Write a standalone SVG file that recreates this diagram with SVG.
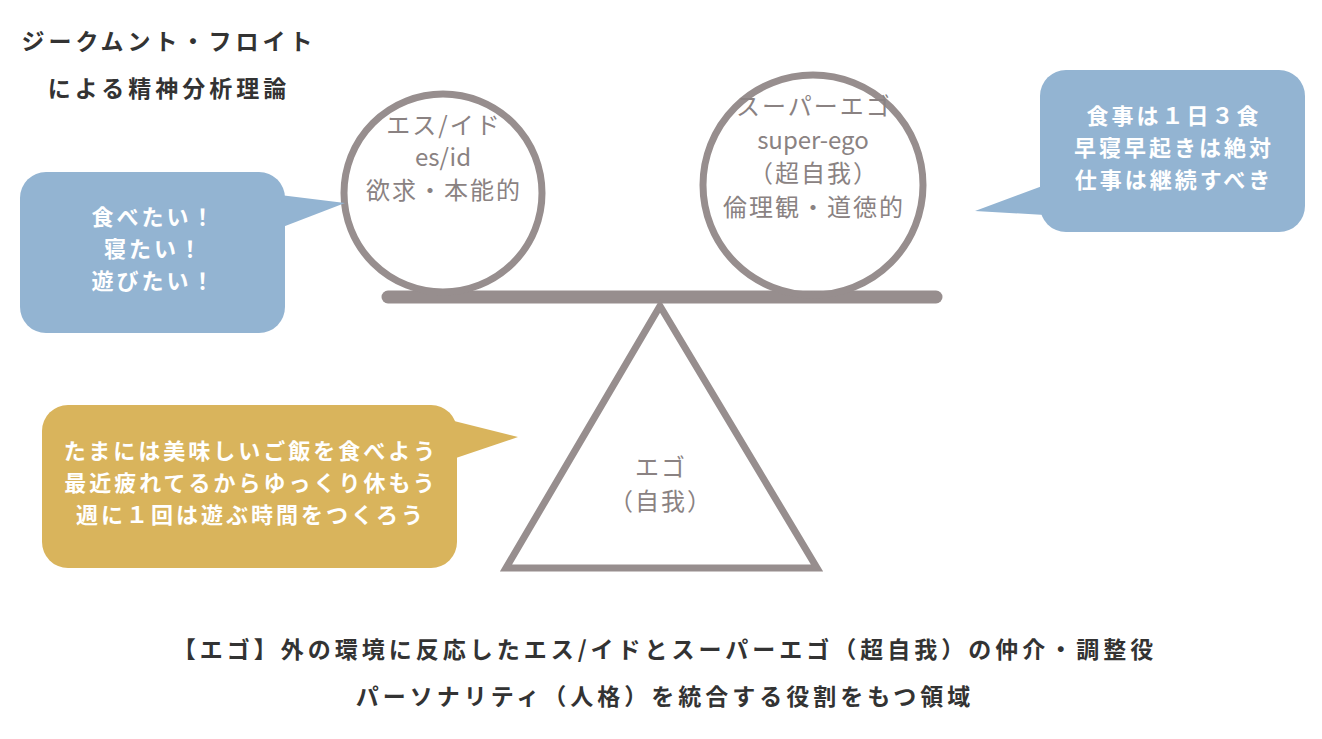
<svg xmlns="http://www.w3.org/2000/svg" width="1322" height="739" viewBox="0 0 1322 739">
<style>
text{font-family:"Noto Sans CJK JP","Noto Sans",sans-serif;text-anchor:middle}
.t{font-size:23px;font-weight:bold;fill:#333;letter-spacing:4px}
.g{font-size:24px;fill:#8a8282;letter-spacing:2px}
.l{letter-spacing:0}
.w{font-size:22px;font-weight:bold;fill:#fff;letter-spacing:3px}
.s{fill:none;stroke:#978e8e;stroke-width:7}
</style>
<rect width="1322" height="739" fill="#fff"/>
<g id="title"><text class="t" x="169" y="50">ジークムント・フロイト</text><text class="t" x="169" y="97">による精神分析理論</text></g>
<g id="connectors">
<line x1="388" y1="297" x2="936" y2="297" stroke="#978e8e" stroke-width="13" stroke-linecap="round"/>
</g>
<g id="id"><circle class="s" cx="443" cy="193" r="99"/>
<text class="g" x="444" y="134">エス/イド</text><text class="g l" x="443" y="166">es/id</text><text class="g" x="444" y="199">欲求・本能的</text></g>
<g id="superego"><circle class="s" cx="813" cy="185" r="110"/>
<text class="g" x="814" y="115">スーパーエゴ</text><text class="g l" x="813" y="149">super-ego</text><text class="g" x="814" y="182">（超自我）</text><text class="g" x="814" y="216">倫理観・道徳的</text></g>
<g id="ego"><polygon class="s" points="660,306 506,568 817,568"/>
<text class="g" x="661" y="476">エゴ</text><text class="g" x="661" y="510">（自我）</text></g>
<g id="bubble-left"><rect x="20" y="172" width="265" height="161" rx="26" fill="#93b4d2"/><polygon points="280,195 345,203 280,228" fill="#93b4d2"/>
<text class="w" x="154" y="225">食べたい！</text><text class="w" x="154" y="257">寝たい！</text><text class="w" x="154" y="289">遊びたい！</text></g>
<g id="bubble-right"><rect x="1040" y="70" width="265" height="162" rx="26" fill="#93b4d2"/><polygon points="1045,185 975,211 1045,215" fill="#93b4d2"/>
<text class="w" x="1174" y="124">食事は１日３食</text><text class="w" x="1174" y="156">早寝早起きは絶対</text><text class="w" x="1174" y="188">仕事は継続すべき</text></g>
<g id="bubble-ego"><rect x="42" y="405" width="415" height="163" rx="26" fill="#d9b45c"/><polygon points="450,420 518,437 450,460" fill="#d9b45c"/>
<text class="w" x="251" y="459">たまには美味しいご飯を食べよう</text><text class="w" x="251" y="491">最近疲れてるからゆっくり休もう</text><text class="w" x="251" y="523">週に１回は遊ぶ時間をつくろう</text></g>
<g id="caption"><text class="t" x="665" y="658">【エゴ】外の環境に反応したエス/イドとスーパーエゴ（超自我）の仲介・調整役</text><text class="t" x="665" y="705">パーソナリティ（人格）を統合する役割をもつ領域</text></g>
</svg>
